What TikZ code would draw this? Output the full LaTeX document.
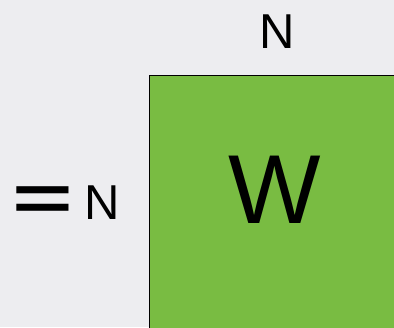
\documentclass[tikz,border=0pt]{standalone}
\usepackage{fontspec}
\setmainfont{Liberation Sans}
\definecolor{bggray}{HTML}{EDEDF0}
\definecolor{wgreen}{HTML}{79BC42}
\tikzset{
  dimlabel/.style={inner sep=0pt, font=\fontsize{49}{49}\selectfont},
  matbox/.style={draw, line width=1.5pt, fill=wgreen, minimum size=254pt}
}
\begin{document}
\begin{tikzpicture}[x=1pt, y=-1pt]
\useasboundingbox (0,0) rectangle (394,327);
\fill[bggray] (0,0) rectangle (394,327);
\clip (0,0) rectangle (394,327);
% matrix W
\node[matbox, anchor=north west] (mat) at (148.75,74.75) {};
\node[inner sep=0pt, font=\fontsize{98}{98}\selectfont] (w) at (275,190) {W};
% sizes
\node[dimlabel] (ntop) at (277,31.5) {N};
\node[dimlabel] (nleft) at (102,202.5) {N};
\node[inner sep=0pt, anchor=base, font=\fontsize{65}{65}\selectfont\bfseries] (eq) at (43,220.5) {\scalebox{1.6}[1]{=}};
\end{tikzpicture}
\end{document}
